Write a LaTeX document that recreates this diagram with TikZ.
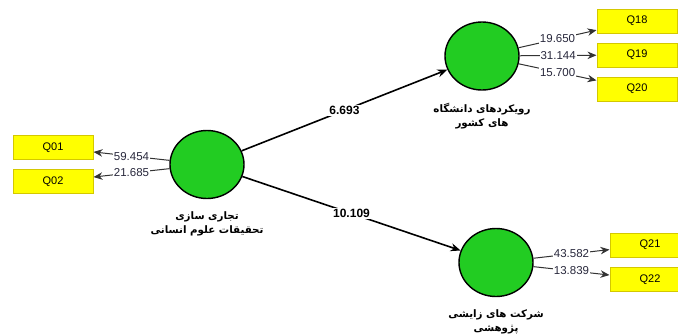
\documentclass[tikz,border=0pt]{standalone}
\usepackage{fontspec}
\setmainfont{Liberation Sans}
\newfontfamily\farsi[Script=Arabic]{DejaVu Sans}
\TeXXeTstate=1
\usetikzlibrary{shapes.geometric,arrows.meta,positioning}

\definecolor{lvgreen}{RGB}{34,204,34}
\definecolor{mvyellow}{RGB}{255,255,0}
\definecolor{mvborder}{RGB}{212,200,0}
\definecolor{wtext}{RGB}{40,40,60}

\tikzset{
    latent/.style={ellipse,draw,line width=1.4pt,fill=lvgreen,minimum width=74pt,minimum height=68pt,inner sep=0pt},
    item/.style={rectangle,draw=mvborder,line width=1pt,fill=mvyellow,minimum width=80pt,minimum height=24pt,font=\fontsize{11}{12}\selectfont},
    inner path/.style={line width=1.6pt,-{Stealth[length=10pt,width=8pt]}},
    outer load/.style={line width=1pt,draw=black!80,-{Stealth[length=9pt,width=7.5pt]}},
    coef/.style={fill=white,inner sep=1pt,font=\bfseries\fontsize{12}{12}\selectfont},
    weight/.style={fill=white,inner sep=1pt,text=wtext,font=\fontsize{11.5}{12}\selectfont},
    lvname/.style={align=center,inner sep=0pt,font=\farsi\bfseries\fontsize{10.3}{14.5}\selectfont}
}

\begin{document}
\begin{tikzpicture}[x=1pt,y=-1pt]
        \clip (0,0) rectangle (678,335);
        \node[latent] (comm) at (207,164.5) {};
        \node[latent] (univ) at (482,56) {};
        \node[latent] (spin) at (496,262.5) {};
        \node[lvname,below=12pt of comm] (commname) {\beginR تجاری سازی\endR\\\beginR تحقیقات علوم انسانی\endR};
        \node[lvname,below=12pt of univ] (univname) {\beginR رویکردهای دانشگاه\endR\\\beginR های کشور\endR};
        \node[lvname,below=12pt of spin] (spinname) {\beginR شرکت های زایشی\endR\\\beginR پژوهشی\endR};

        \node[item] (q01) at (53,147.5) {Q01};
        \node[item] (q02) at (53,181.5) {Q02};
        \node[item] (q18) at (637,21) {Q18};
        \node[item] (q19) at (637,55) {Q19};
        \node[item] (q20) at (637,89) {Q20};
        \node[item] (q21) at (650,245) {Q21};
        \node[item] (q22) at (650,279.5) {Q22};

        \draw[inner path] (comm) -- node[coef] {6.693} (univ);
        \draw[inner path] (comm) -- node[coef] {10.109} (spin);

        \draw[outer load] (comm) -- node[weight] {59.454} (q01);
        \draw[outer load] (comm) -- node[weight] {21.685} (q02);
        \draw[outer load] (univ) -- node[weight] {19.650} (q18);
        \draw[outer load] (univ) -- node[weight] {31.144} (q19);
        \draw[outer load] (univ) -- node[weight] {15.700} (q20);
        \draw[outer load] (spin) -- node[weight] {43.582} (q21);
        \draw[outer load] (spin) -- node[weight] {13.839} (q22);
    \end{tikzpicture}
\end{document}
